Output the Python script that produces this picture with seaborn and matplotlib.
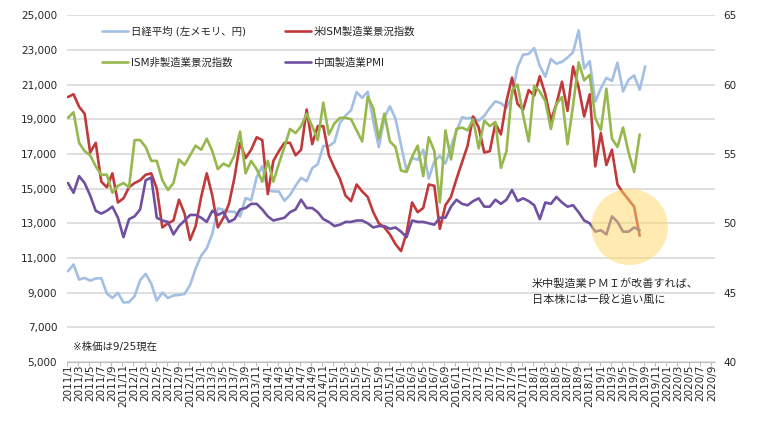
import numpy as np
import pandas as pd
import matplotlib.pyplot as plt
import seaborn as sns
from matplotlib.patches import Ellipse

sns.set_style("white")
plt.rcParams['font.family'] = ['DejaVu Sans', 'Noto Sans CJK JP']

# month axis 2011/1 .. 2020/9
months = [f"{y}/{m}" for y in range(2011, 2021) for m in range(1, 13)][:117]

# 日経平均 (left axis, yen) 2011/1 - 2019/9
nikkei = [10237, 10624, 9755, 9849, 9693, 9816, 9833, 8955, 8700, 8988, 8434, 8455,
          8802, 9723, 10083, 9520, 8542, 9007, 8695, 8840, 8870, 8928, 9446, 10395,
          11139, 11559, 12398, 13861, 13775, 13677, 13668, 13389, 14456, 14328, 15662, 16291,
          14915, 14841, 14828, 14304, 14632, 15162, 15621, 15425, 16174, 16414, 17460, 17451,
          17674, 18798, 19207, 19520, 20563, 20236, 20585, 18890, 17388, 19083, 19747, 19034,
          17518, 16027, 16759, 16666, 17235, 15576, 16569, 16887, 16450, 17425, 18308, 19114,
          19041, 19119, 18909, 19197, 19651, 20033, 19925, 19646, 20356, 22012, 22725, 22765,
          23098, 22068, 21454, 22468, 22202, 22305, 22554, 22865, 24120, 21920, 22351, 20015,
          20773, 21385, 21206, 22259, 20601, 21276, 21522, 20704, 22049]

# 米ISM製造業景況指数 2011/1 - 2019/8
ism_mfg = [59.1, 59.3, 58.4, 57.9, 55.1, 55.8, 53.0, 52.6, 53.6, 51.5, 51.8, 52.6,
           52.9, 53.1, 53.5, 53.6, 52.5, 49.7, 50.0, 50.2, 51.7, 50.7, 48.8, 49.8,
           51.9, 53.6, 52.0, 49.7, 50.4, 51.4, 53.3, 55.8, 54.7, 55.3, 56.2, 56.0,
           52.1, 54.5, 55.2, 55.8, 55.8, 54.9, 55.3, 58.2, 55.7, 57.0, 57.0, 54.9,
           54.0, 53.2, 52.0, 51.6, 52.8, 52.3, 51.9, 50.8, 50.0, 49.7, 49.2, 48.5,
           48.0, 49.3, 51.5, 50.8, 51.1, 52.8, 52.7, 49.6, 51.3, 51.9, 53.2, 54.4,
           55.6, 57.7, 56.9, 55.1, 55.2, 57.2, 56.4, 58.8, 60.5, 58.6, 58.2, 59.6,
           59.2, 60.6, 59.3, 57.4, 58.6, 60.2, 58.1, 61.3, 59.8, 57.7, 59.3, 54.1,
           56.5, 54.2, 55.3, 52.8, 52.2, 51.7, 51.2, 49.1]

# ISM非製造業景況指数 2011/1 - 2019/8
ism_nonmfg = [57.6, 58.0, 55.8, 55.2, 54.9, 54.1, 53.5, 53.5, 52.2, 52.7, 52.9, 52.6,
              56.0, 56.0, 55.5, 54.5, 54.5, 53.1, 52.4, 52.9, 54.6, 54.2, 54.9, 55.6,
              55.3, 56.1, 55.2, 53.9, 54.3, 54.1, 54.9, 56.6, 53.6, 54.5, 53.9, 53.0,
              54.5, 53.0, 54.3, 55.5, 56.8, 56.5, 57.0, 57.9, 57.0, 56.0, 58.7, 56.4,
              57.2, 57.6, 57.6, 57.5, 56.7, 55.9, 59.1, 58.3, 56.1, 57.9, 55.9, 55.5,
              53.8, 53.7, 54.8, 55.6, 53.4, 56.2, 55.2, 51.5, 56.7, 54.6, 56.8, 56.9,
              56.7, 57.5, 55.4, 57.4, 57.0, 57.3, 54.0, 55.2, 59.6, 60.0, 57.8, 55.9,
              59.9, 59.5, 58.8, 56.8, 58.6, 59.1, 55.7, 58.5, 61.6, 60.3, 60.7, 57.6,
              56.7, 59.7, 56.1, 55.5, 56.9, 55.1, 53.7, 56.4]

# 中国製造業PMI 2011/1 - 2019/8
china_pmi = [52.9, 52.2, 53.4, 52.9, 52.0, 50.9, 50.7, 50.9, 51.2, 50.4, 49.0, 50.3,
             50.5, 51.0, 53.1, 53.3, 50.4, 50.2, 50.1, 49.2, 49.8, 50.2, 50.6, 50.6,
             50.4, 50.1, 50.9, 50.6, 50.8, 50.1, 50.3, 51.0, 51.1, 51.4, 51.4, 51.0,
             50.5, 50.2, 50.3, 50.4, 50.8, 51.0, 51.7, 51.1, 51.1, 50.8, 50.3, 50.1,
             49.8, 49.9, 50.1, 50.1, 50.2, 50.2, 50.0, 49.7, 49.8, 49.8, 49.6, 49.7,
             49.4, 49.0, 50.2, 50.1, 50.1, 50.0, 49.9, 50.4, 50.4, 51.2, 51.7, 51.4,
             51.3, 51.6, 51.8, 51.2, 51.2, 51.7, 51.4, 51.7, 52.4, 51.6, 51.8, 51.6,
             51.3, 50.3, 51.5, 51.4, 51.9, 51.5, 51.2, 51.3, 50.8, 50.2, 50.0, 49.4,
             49.5, 49.2, 50.5, 50.1, 49.4, 49.4, 49.7, 49.5]

labels = ["日経平均 (左メモリ、円)", "米ISM製造業景況指数", "ISM非製造業景況指数", "中国製造業PMI"]
colors = ["#a3bfe3", "#c0393b", "#96b84c", "#7050a0"]

fig, ax = plt.subplots(figsize=(7.6, 4.21), dpi=100)
fig.subplots_adjust(left=0.088, right=0.941, top=0.964, bottom=0.140)
ax2 = ax.twinx()

lw = 1.9
df = pd.DataFrame({"i": np.arange(len(nikkei)), "v": nikkei})
sns.lineplot(data=df, x="i", y="v", ax=ax, color=colors[0], linewidth=lw, legend=False)
for vals, c in zip([ism_mfg, ism_nonmfg, china_pmi], colors[1:]):
    d = pd.DataFrame({"i": np.arange(len(vals)), "v": vals})
    sns.lineplot(data=d, x="i", y="v", ax=ax2, color=c, linewidth=lw, legend=False, zorder=3)

ax.set_xlim(-0.2, 116.6)
ax.set_ylim(5000, 25000)
ax2.set_ylim(40, 65)
ax.set_xlabel("")
ax.set_ylabel("")
ax2.set_ylabel("")

ax.set_yticks(range(5000, 25001, 2000))
ax.set_yticklabels([f"{v:,}" for v in range(5000, 25001, 2000)])
ax2.set_yticks(range(40, 66, 5))
ax.set_xticks(range(0, 117, 2))
ax.set_xticklabels(months[::2], rotation=90)
ax.set_xticks(np.arange(-0.2, 117, 2), minor=True)

ax.tick_params(axis="y", length=0, pad=7, labelsize=7.5, labelcolor="#262626")
ax2.tick_params(axis="y", length=0, pad=6, labelsize=7.5, labelcolor="#262626")
ax.tick_params(axis="x", which="major", length=0, pad=1.5, labelsize=7.5, labelcolor="#262626")
ax.tick_params(axis="x", which="minor", bottom=True, length=3, color="#bfbfbf", width=0.8)

ax.yaxis.grid(True, color="#d9d9d9", linewidth=1.2)
ax.set_axisbelow(True)
for s in ["top", "left", "right"]:
    ax.spines[s].set_visible(False)
ax.spines["bottom"].set_color("#bfbfbf")
for s in ax2.spines.values():
    s.set_visible(False)

# legend: row1 日経 / 米ISM, row2 ISM非 / 中国
lines = [ax.get_lines()[0]] + ax2.get_lines()[:3]
order = [0, 2, 1, 3]
ax2.legend([lines[k] for k in order], [labels[k] for k in order],
           loc="upper left", bbox_to_anchor=(0.054, 0.968), ncol=2, frameon=False,
           fontsize=7.5, handlelength=2.5, handletextpad=0.3, columnspacing=3.7,
           labelspacing=2.0, borderaxespad=0, borderpad=0)

# highlight circle
ax2.add_patch(Ellipse((101.2, 49.74), 13.8, 5.5, facecolor="#ffd966", alpha=0.5,
                      edgecolor="none", zorder=5))

fig.text(532 / 760, 1 - 284 / 421, "米中製造業ＰＭＩが改善すれば、", fontsize=8, va="center", color="#262626")
fig.text(532 / 760, 1 - 300 / 421, "日本株には一段と追い風に", fontsize=8, va="center", color="#262626")
fig.text(73 / 760, 1 - 347 / 421, "※株価は9/25現在", fontsize=7.5, va="center", color="#262626")

fig.savefig("out.png", dpi=100)
